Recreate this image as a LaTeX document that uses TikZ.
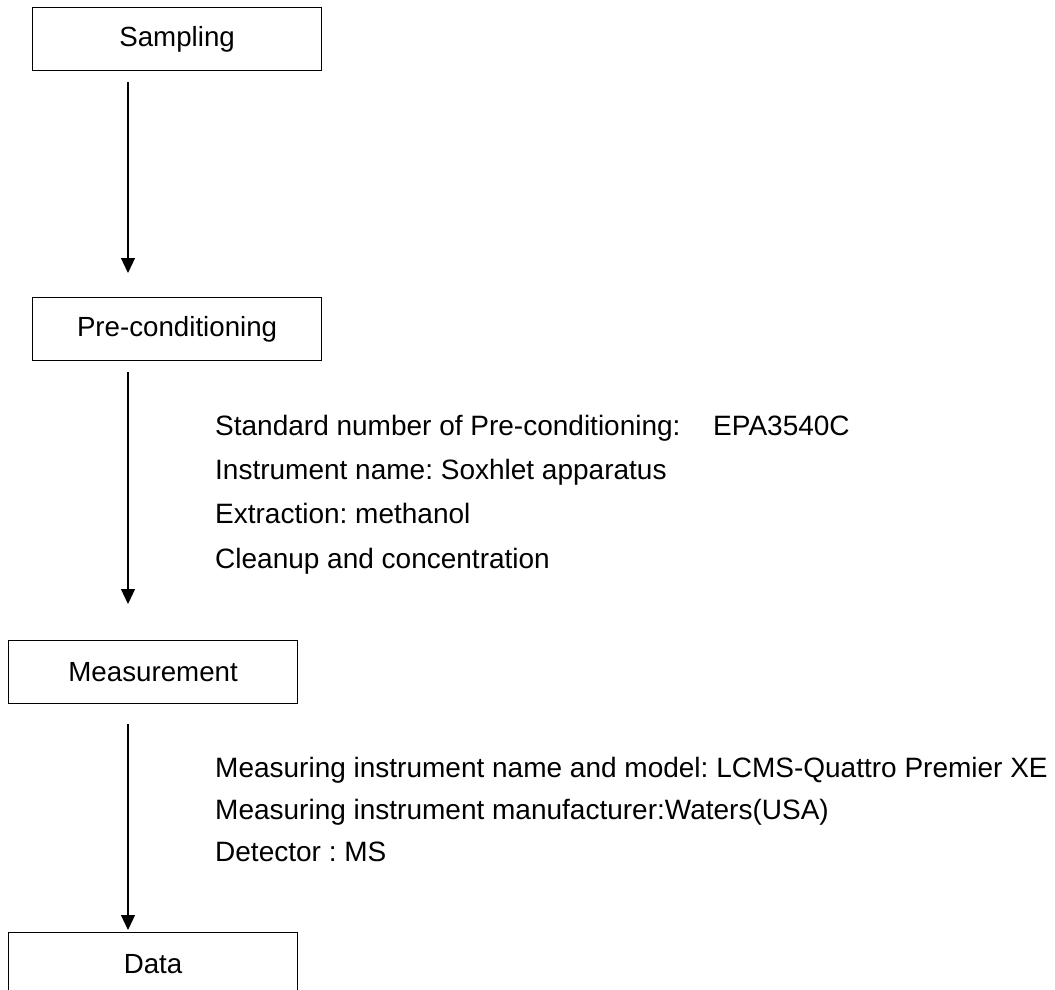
\documentclass[tikz,border=0pt]{standalone}
\usepackage{fontspec}
\setmainfont{Liberation Sans}
\usetikzlibrary{arrows.meta}
\frenchspacing
\tikzset{
  stepbox/.style={draw, line width=1.2pt, minimum width=289pt, minimum height=63pt, inner sep=0pt, anchor=north west,
    font=\fontsize{27.7}{33}\selectfont},
  arr/.style={line width=1.2pt, -{Triangle[width=14pt,length=15pt]}},
  info/.style={anchor=base west, inner sep=0pt, font=\frenchspacing\fontsize{28}{33}\selectfont}
}
\begin{document}
\begin{tikzpicture}[x=1pt,y=-1pt]
\useasboundingbox (0,0) rectangle (1055,990);
\clip (0,0) rectangle (1055,990);
\node[stepbox] (sampling) at (32,7) {Sampling};
\node[stepbox] (precond) at (32,297) {Pre-conditioning};
\node[stepbox] (measure) at (8,640) {Measurement};
\node[stepbox] (data) at (8,932) {Data};
\coordinate (ax) at (128,0);
\draw[arr, shorten <=11pt, shorten >=24pt] (sampling.south -| ax) -- (precond.north -| ax);
\draw[arr, shorten <=11pt, shorten >=36pt] (precond.south -| ax) -- (measure.north -| ax);
\draw[arr, shorten <=20pt, shorten >=2pt] (measure.south -| ax) -- (data.north -| ax);
\node[info] (p1) at (215,435) {Standard number of Pre-conditioning:\hspace{32.7pt}EPA3540C};
\node[info] (p2) at (215,479) {Instrument name: Soxhlet apparatus};
\node[info] (p3) at (215,523) {Extraction: methanol};
\node[info] (p4) at (215,568) {Cleanup and concentration};
\node[info] (m1) at (215,777) {Measuring instrument name and model: LCMS-Quattro Premier XE};
\node[info] (m2) at (215,819) {Measuring instrument manufacturer:Waters(USA)};
\node[info] (m3) at (215,861) {Detector : MS};
\end{tikzpicture}
\end{document}
